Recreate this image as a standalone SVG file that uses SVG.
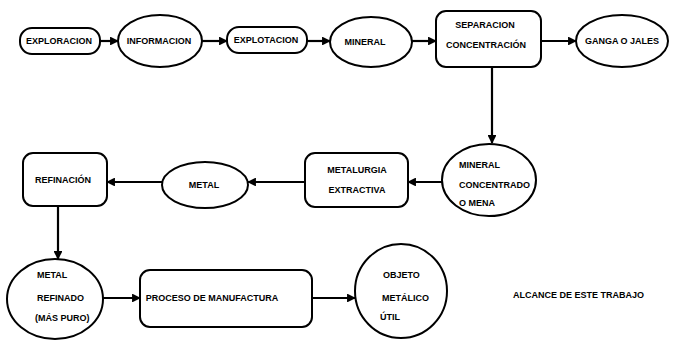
<svg xmlns="http://www.w3.org/2000/svg" width="677" height="341" viewBox="0 0 677 341">
<defs>
<style>
.n{fill:#fff;stroke:#000;stroke-width:2}
.t{font-family:"Liberation Sans",Arial,sans-serif;font-weight:bold;font-size:9px;fill:#000}
.c{text-anchor:middle}
.e{stroke:#000;stroke-width:2.2;fill:none;marker-end:url(#ah)}
</style>
<marker id="ah" viewBox="0 0 10 10" refX="9" refY="5" markerWidth="4" markerHeight="4" orient="auto" markerUnits="strokeWidth">
<path d="M0,0 L10,5 L0,10 z" fill="#000"/>
</marker>
</defs>
<rect width="677" height="341" fill="#fff"/>
<g id="connectors">
<line class="e" x1="100" y1="41" x2="118" y2="41"/>
<line class="e" x1="202" y1="41" x2="227" y2="41"/>
<line class="e" x1="307" y1="41" x2="330" y2="41"/>
<line class="e" x1="412" y1="41" x2="436" y2="41"/>
<line class="e" x1="541" y1="41" x2="576" y2="41"/>
<line class="e" x1="492" y1="67" x2="492" y2="143"/>
<line class="e" x1="442" y1="182" x2="408" y2="182"/>
<line class="e" x1="305" y1="182" x2="248" y2="182"/>
<line class="e" x1="162" y1="182" x2="107" y2="182"/>
<line class="e" x1="58" y1="206" x2="58" y2="259"/>
<line class="e" x1="103" y1="298" x2="140" y2="298"/>
<line class="e" x1="312" y1="298" x2="355" y2="298"/>
</g>
<g id="exploracion"><rect class="n" x="20" y="28" width="80" height="26" rx="12"/><text class="t c" x="59" y="44">EXPLORACION</text></g>
<g id="informacion"><ellipse class="n" cx="160" cy="41" rx="42" ry="26"/><text class="t c" x="159" y="44">INFORMACION</text></g>
<g id="explotacion"><rect class="n" x="227" y="27" width="80" height="26" rx="12"/><text class="t c" x="266" y="43">EXPLOTACION</text></g>
<g id="mineral"><ellipse class="n" cx="371" cy="42" rx="41" ry="25"/><text class="t c" x="365" y="45">MINERAL</text></g>
<g id="separacion"><rect class="n" x="436" y="11" width="105" height="56" rx="10"/><text class="t c" x="485" y="28">SEPARACION</text><text class="t c" x="486" y="48">CONCENTRACIÓN</text></g>
<g id="ganga"><ellipse class="n" cx="622" cy="41" rx="46" ry="26"/><text class="t c" x="622" y="44">GANGA O JALES</text></g>
<g id="mineral-concentrado"><ellipse class="n" cx="489" cy="180" rx="47" ry="36"/><text class="t" x="459" y="168">MINERAL</text><text class="t" x="459" y="188">CONCENTRADO</text><text class="t" x="459" y="206">O MENA</text></g>
<g id="metalurgia"><rect class="n" x="305" y="153" width="103" height="54" rx="10"/><text class="t c" x="357" y="173">METALURGIA</text><text class="t c" x="357" y="193">EXTRACTIVA</text></g>
<g id="metal"><ellipse class="n" cx="205" cy="185" rx="43" ry="23"/><text class="t c" x="204" y="188">METAL</text></g>
<g id="refinacion"><rect class="n" x="23" y="153" width="84" height="53" rx="10"/><text class="t c" x="63" y="183">REFINACIÓN</text></g>
<g id="metal-refinado"><ellipse class="n" cx="55" cy="299" rx="48" ry="40"/><text class="t" x="37" y="278">METAL</text><text class="t" x="37" y="301">REFINADO</text><text class="t" x="35" y="321">(MÁS PURO)</text></g>
<g id="proceso"><rect class="n" x="140" y="270" width="172" height="57" rx="10"/><text class="t c" x="212" y="301">PROCESO DE MANUFACTURA</text></g>
<g id="objeto"><ellipse class="n" cx="401" cy="291" rx="46" ry="47"/><text class="t" x="383" y="278">OBJETO</text><text class="t" x="382" y="301">METÁLICO</text><text class="t" x="380" y="320">ÚTIL</text></g>
<g id="alcance"><text class="t" x="513" y="298">ALCANCE DE ESTE TRABAJO</text></g>
</svg>
